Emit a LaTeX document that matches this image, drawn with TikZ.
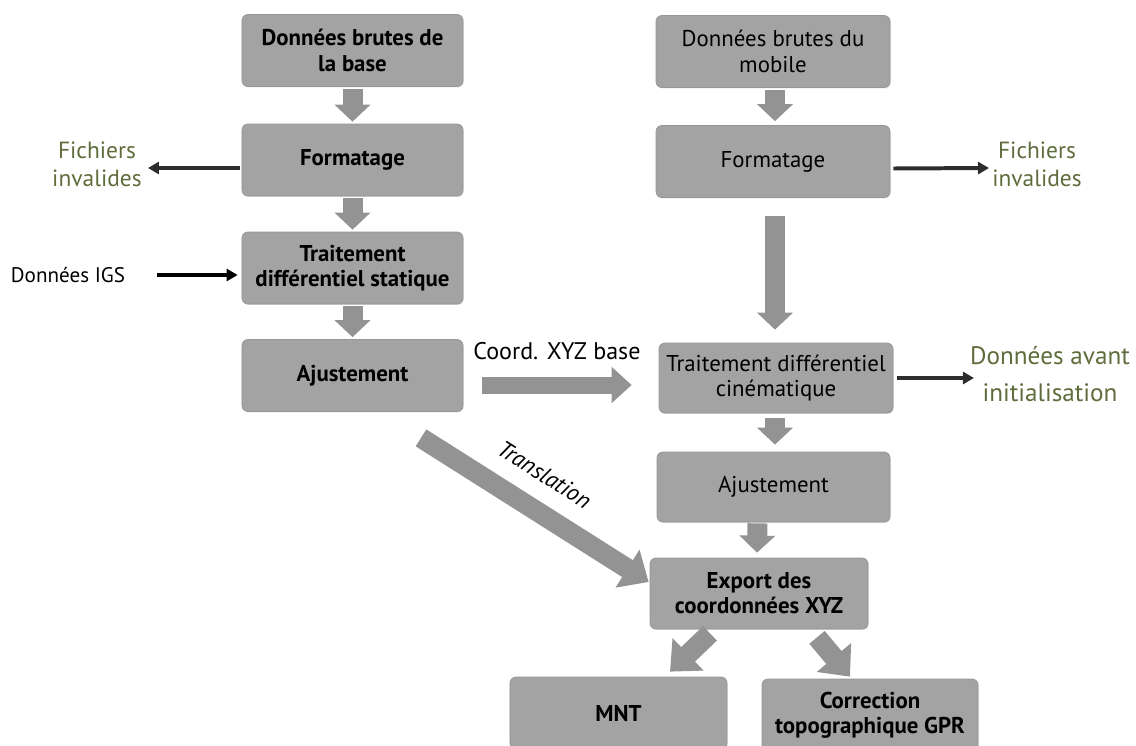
\documentclass[tikz,border=0pt]{standalone}
\usepackage{fontspec}
\setmainfont{PT Sans}
\usetikzlibrary{calc,arrows.meta,shadows}

\definecolor{boxfill}{RGB}{163,163,163}
\definecolor{boxedge}{RGB}{150,150,150}
\definecolor{flowgray}{RGB}{147,147,147}
\definecolor{labelgreen}{RGB}{95,108,60}
\definecolor{darkline}{RGB}{45,45,45}

\tikzset{
  procbox/.style={draw=boxedge, fill=boxfill, rounded corners=5pt, line width=0.6pt,
    align=center, inner sep=0pt, minimum height=2.16cm,
    font=\fontsize{19.5}{21.5}\selectfont,
    drop shadow={opacity=0.25, shadow xshift=0.6pt, shadow yshift=-0.8pt}},
  boldbox/.style={procbox, font=\fontsize{19.5}{21.5}\selectfont\bfseries},
  flow/.style={draw=flowgray, line width=0.6cm, -{Triangle[width=1.05cm,length=0.51cm]}},
  bigflow/.style={draw=flowgray, line width=0.6cm, -{Triangle[width=1.3cm,length=0.75cm]}},
  side/.style={draw=darkline, line width=3.4pt, -{Triangle[width=0.36cm,length=0.33cm]}},
  note/.style={text=labelgreen, align=center, inner sep=0pt, font=\fontsize{20}{24}\selectfont},
}

\begin{document}
\begin{tikzpicture}[x=0.03cm, y=-0.03cm]

    % Frame of the picture (pixel grid, y going down)
    \useasboundingbox (0,0) rectangle (1136,745);
    \clip (0,0) rectangle (1136,745);

    % Base station chain
    \node[boldbox, minimum width=6.63cm] (B1) at (352.5,50.5) {Données brutes de\\la base};
    \node[boldbox, minimum width=6.63cm] (B2) at (352.5,160) {Formatage};
    \node[boldbox, minimum width=6.63cm] (B3) at (352.5,268) {Traitement\\différentiel statique};
    \node[boldbox, minimum width=6.63cm] (B4) at (352.5,375.5) {Ajustement};

    % Mobile chain
    \node[procbox, minimum width=7.02cm] (R1) at (773,51.5) {Données brutes du\\mobile};
    \node[procbox, minimum width=7.02cm] (R2) at (773,161.5) {Formatage};
    \node[procbox, minimum width=7.02cm, minimum height=2.1cm] (R3) at (776,378) {Traitement différentiel\\cinématique};
    \node[procbox, minimum width=6.99cm, minimum height=2.1cm] (R4) at (773.5,487) {Ajustement};
    \node[boldbox, minimum width=6.54cm, minimum height=2.13cm] (R5) at (759,593.5) {Export des\\coordonnées XYZ};

    % Products
    \node[boldbox, minimum width=6.51cm] (MNT) at (618.5,713) {MNT};
    \node[boldbox, minimum width=6.48cm] (GPR) at (870,715) {Correction\\topographique GPR};

    % Side labels
    \node[note] (fichG) at (97,164) {Fichiers\\invalides};
    \node[note] (fichD) at (1037,164) {Fichiers\\invalides};
    \node[note, font=\fontsize{21.5}{32}\selectfont] (avant) at (1050,374) {Données avant\\initialisation};
    \node[inner sep=0pt, font=\fontsize{18}{24}\selectfont] (igs) at (68,275) {Données IGS};

    % 1. Block arrows along the chains
    \draw[flow] ($(B1.south)+(0,2)$) -- ($(B2.north)+(0,-2)$);
    \draw[flow] ($(B2.south)+(0,2)$) -- ($(B3.north)+(0,-2)$);
    \draw[flow] ($(B3.south)+(0,2)$) -- ($(B4.north)+(0,-2)$);
    \draw[flow] ($(R1.south)+(2,2)$) -- ($(R2.north)+(2,-4)$);
    \draw[flow] ($(R2.south)+(2,18)$) -- ($(R3.north)+(-1,-13)$);
    \draw[flow] ($(R3.south)+(-1,5)$) -- ($(R4.north)+(1.5,-7)$);
    \draw[flow] ($(R4.south)+(-16,1)$) -- ($(R5.north)+(-2,-5)$);

    % 2. Transfers from the base to the mobile chain
    \draw[flow, line width=0.51cm, -{Triangle[width=1.05cm,length=0.6cm]}]
        ($(B4.east)+(19,9.5)$) -- node[above=0.5cm, inner sep=0pt, font=\fontsize{20.5}{24}\selectfont] {Coord. XYZ base}
        ($(R3.west)+(-27,7)$);
    \draw[bigflow] ($(B4.south)+(68.5,26)$) -- node[pos=0.46, sloped, above=0.5cm, inner sep=0pt, font=\fontsize{20}{24}\selectfont\itshape] {Translation}
        ($(R5.west)+(-1,-11.5)$);

    % 3. Outputs of the export
    \draw[bigflow] ($(R5.south)+(-49,4)$) -- ($(MNT.north)+(51.5,-5)$);
    \draw[bigflow] ($(R5.south)+(58,8)$) -- ($(GPR.north)+(-20,-2)$);

    % 4. Thin side arrows
    \draw[side] ($(B2.west)+(-2,8)$) -- ($(fichG.east)+(6,4)$);
    \draw[side, draw=black] ($(igs.east)+(32,0)$) -- ($(B3.west)+(-4,7)$);
    \draw[side] ($(R2.east)+(3,7)$) -- ($(fichD.west)+(-3,4)$);
    \draw[side] ($(R3.east)+(4,0)$) -- ($(avant.west)+(4,4)$);

\end{tikzpicture}
\end{document}
